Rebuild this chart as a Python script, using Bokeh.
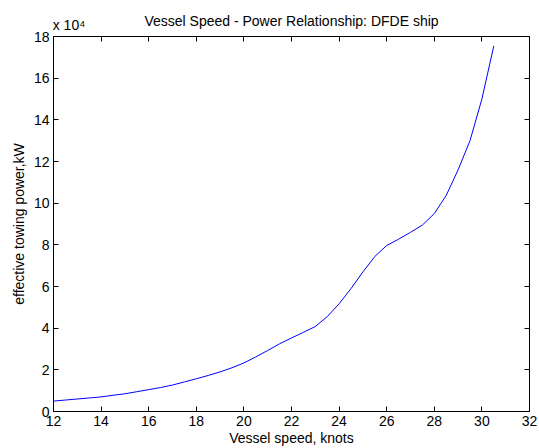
from bokeh.plotting import figure
from bokeh.models import Range1d, LinearAxis, FixedTicker, CustomJSTickFormatter
from bokeh.embed import file_html
from bokeh.resources import INLINE

# Data
speed_knots = [12, 12.5, 13, 13.5, 14, 14.5, 15, 15.5, 16, 16.5, 17, 17.5, 18, 18.5,
               19, 19.5, 20, 20.5, 21, 21.5, 22, 22.5, 23, 23.5, 24, 24.5, 25, 25.5,
               26, 26.5, 27, 27.5, 28, 28.5, 29, 29.5, 30, 30.5]
power_kw = [5000, 5500, 6000, 6500, 7000, 7800, 8500, 9500, 10500, 11500, 12700, 14200,
            15700, 17300, 19000, 21000, 23300, 26200, 29300, 32500, 35300, 38000, 40800,
            45500, 51700, 59000, 67000, 74400, 79700, 82700, 86000, 89500, 95000, 103700,
            116000, 130000, 150000, 175500]
x_ticks = [12, 14, 16, 18, 20, 22, 24, 26, 28, 30, 32]
y_ticks = [0, 20000, 40000, 60000, 80000, 100000, 120000, 140000, 160000, 180000]
y_tick_labels = ["0", "2", "4", "6", "8", "10", "12", "14", "16", "18"]
title_text = "Vessel Speed - Power Relationship: DFDE ship"
exponent_text = "x 10\u2074"

FONT = "Liberation Sans"
FS = "14px"
EXP_POS = 12.65  # horizontal anchor of the "x 10^4" note along the top edge

p = figure(width=539, height=448, output_backend="svg", toolbar_location=None,
           x_range=Range1d(12, 32), y_range=Range1d(0, 180000),
           min_border_left=53, min_border_right=10, min_border_top=36, min_border_bottom=37)
p.grid.visible = False
p.outline_line_color = "black"
p.background_fill_color = "white"
p.border_fill_color = "white"

p.line(speed_knots, power_kw, line_color="#0000ff", line_width=1)

for ax in [p.xaxis[0], p.yaxis[0]]:
    ax.major_tick_in = 5
    ax.major_tick_out = 0
    ax.minor_tick_in = 0
    ax.minor_tick_out = 0
    ax.axis_line_color = "black"
    ax.major_tick_line_color = "black"
    ax.major_label_text_font = FONT
    ax.major_label_text_font_size = FS
    ax.major_label_text_color = "black"
    ax.axis_label_text_font = FONT
    ax.axis_label_text_font_size = FS
    ax.axis_label_text_font_style = "normal"
    ax.axis_label_text_color = "black"

p.xaxis[0].ticker = FixedTicker(ticks=x_ticks)
p.yaxis[0].ticker = FixedTicker(ticks=y_ticks)
p.yaxis[0].major_label_overrides = {t: l for t, l in zip(y_ticks, y_tick_labels)}
p.xaxis[0].axis_label = "Vessel speed, knots"
p.yaxis[0].axis_label = "effective towing power,kW"
p.xaxis[0].major_label_standoff = 4
p.yaxis[0].major_label_standoff = 4
p.xaxis[0].axis_label_standoff = 1
p.yaxis[0].axis_label_standoff = 4

# Top edge: tick marks (as minor ticks), the exponent note and the chart title
top = LinearAxis(ticker=FixedTicker(ticks=[EXP_POS], minor_ticks=x_ticks),
                 major_label_overrides={EXP_POS: exponent_text},
                 major_tick_line_color=None, major_tick_in=0, major_tick_out=0,
                 minor_tick_in=5, minor_tick_out=0, minor_tick_line_color="black",
                 major_label_standoff=4, axis_line_color="black",
                 major_label_text_font=FONT, major_label_text_font_size=FS,
                 major_label_text_color="black",
                 axis_label=title_text, axis_label_standoff=-15,
                 axis_label_text_font=FONT, axis_label_text_font_size=FS,
                 axis_label_text_font_style="normal", axis_label_text_color="black")
empty = CustomJSTickFormatter(code="return ''")
right = LinearAxis(ticker=FixedTicker(ticks=y_ticks), formatter=empty,
                   major_tick_in=5, major_tick_out=0, minor_tick_in=0, minor_tick_out=0,
                   major_label_standoff=0, axis_line_color="black")
p.add_layout(top, "above")
p.add_layout(right, "right")

open("out.html", "w").write(file_html(p, INLINE))
